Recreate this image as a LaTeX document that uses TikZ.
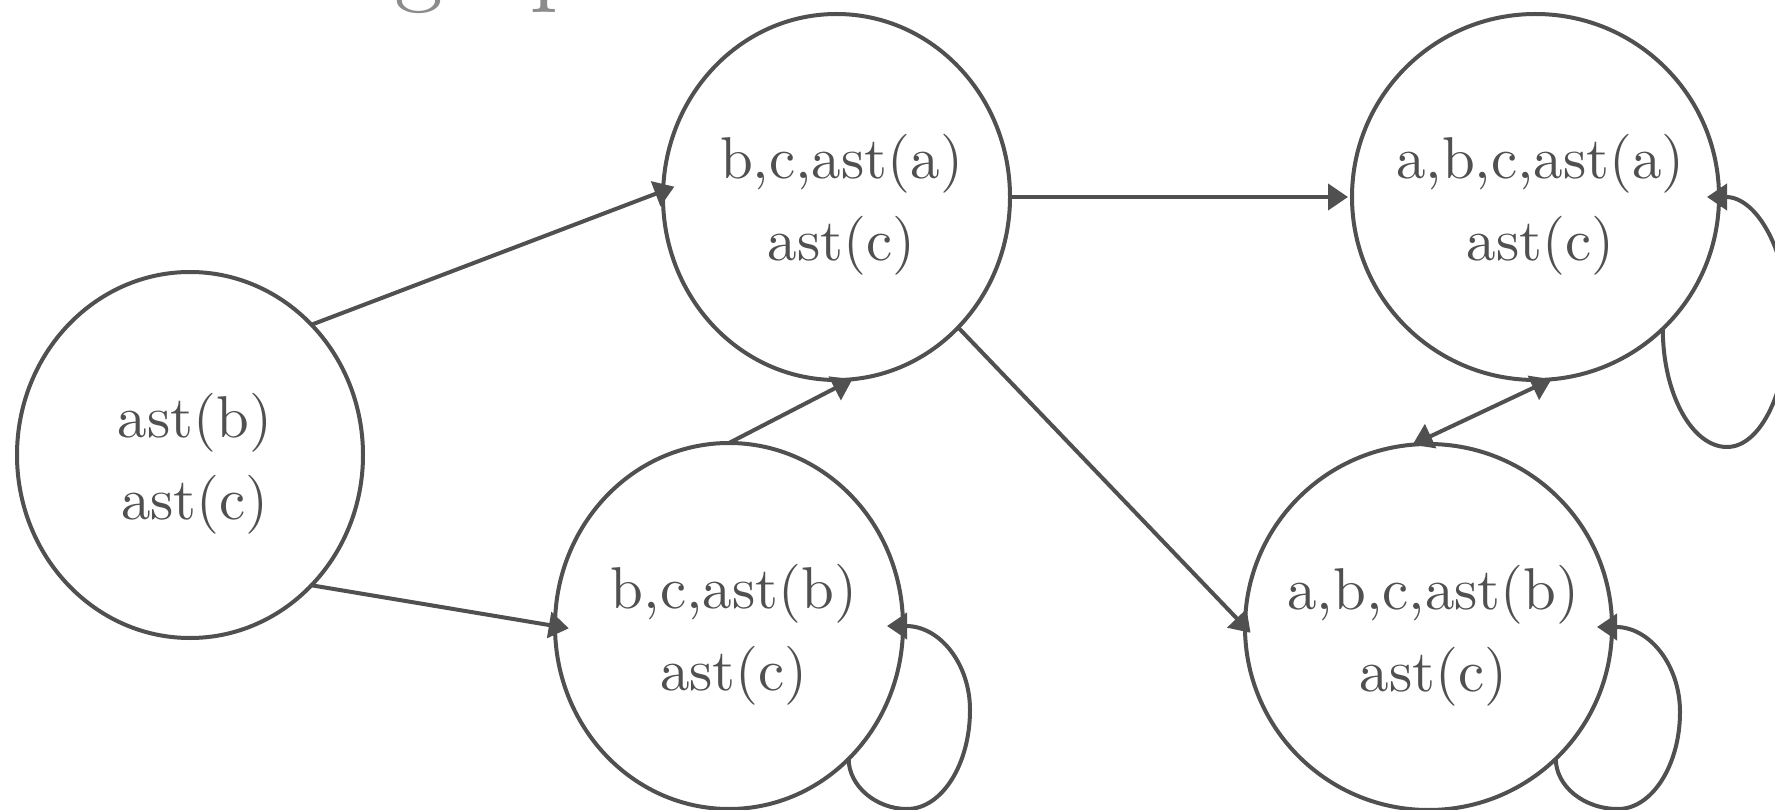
\documentclass[tikz,border=0pt]{standalone}
\usepackage{fontspec}
\newfontfamily\lblfont{lmroman10-regular.otf}
\usetikzlibrary{arrows.meta,shapes.geometric}
\definecolor{ink}{HTML}{505050}
\definecolor{titlegray}{HTML}{8C8C8C}
\begin{document}
\begin{tikzpicture}[x=1pt,y=-1pt,
  >={Triangle[length=20pt,width=26pt]},
  state/.style={ellipse, draw=ink, line width=4pt, inner sep=0pt, outer sep=0pt, minimum height=366pt},
  lbl/.style={text=ink, font=\lblfont\fontsize{59pt}{70pt}\selectfont, inner sep=0pt, anchor=base},
  edge/.style={draw=ink, line width=4pt, ->},
  titletext/.style={text=titlegray, font=\lblfont\fontsize{98pt}{100pt}\selectfont, inner sep=0pt, anchor=base west}]
\useasboundingbox (0,0) rectangle (1775,810);
\clip (0,0) rectangle (1775,810);
\fill[white] (0,0) rectangle (1775,810);

\node[titletext] (T) at (394,-6) {graph};

\node[state, minimum width=346pt] (A) at (190,455) {};
\node[state, minimum width=347pt] (B) at (836.5,197) {};
\node[state, minimum width=348pt] (C) at (729,626) {};
\node[state, minimum width=367pt] (D) at (1535.5,197) {};
\node[state, minimum width=367pt] (E) at (1428.5,627) {};

\node[lbl] (A1) at ([xshift=5pt,yshift=18pt]A.center) {ast(b)};
\node[lbl] (A2) at ([xshift=5pt,yshift=-64pt]A.center) {ast(c)};
\node[lbl] (B1) at ([xshift=5pt,yshift=18pt]B.center) {b,c,ast(a)};
\node[lbl] (B2) at ([xshift=5pt,yshift=-64pt]B.center) {ast(c)};
\node[lbl] (C1) at ([xshift=5pt,yshift=18pt]C.center) {b,c,ast(b)};
\node[lbl] (C2) at ([xshift=5pt,yshift=-64pt]C.center) {ast(c)};
\node[lbl] (D1) at ([xshift=5pt,yshift=18pt]D.center) {a,b,c,ast(a)};
\node[lbl] (D2) at ([xshift=5pt,yshift=-64pt]D.center) {ast(c)};
\node[lbl] (E1) at ([xshift=5pt,yshift=18pt]E.center) {a,b,c,ast(b)};
\node[lbl] (E2) at ([xshift=5pt,yshift=-64pt]E.center) {ast(c)};

\draw[edge, shorten >=-12pt] (A.47.7) -- (B.178.7);
\draw[edge, shorten >=-14pt] (A.-47.2) -- (C.180);
\draw[edge] (C.90) -- (B.-85);
\draw[edge, shorten >=4pt] (B.0) -- (D.180);
\draw[edge, shorten >=-8pt] (B.-47.6) -- (E.180);
\draw[edge, <->] (E.95) -- (D.-85);

\coordinate (Cb) at (907,809);
\coordinate (Cr) at (970,710);
\draw[edge, shorten >=-16pt] (C.-48) .. controls +(0,27) and +(-31,0) .. (Cb)
  .. controls +(35,0) and +(0,54) .. (Cr)
  .. controls +(0,-46) and +(37,0) .. (C.0);

\coordinate (Eb) at (1618,809);
\coordinate (Er) at (1680,712);
\draw[edge, shorten >=-15pt] (E.-46) .. controls +(0,27.5) and +(-34,0) .. (Eb)
  .. controls +(34,0) and +(0,53) .. (Er)
  .. controls +(0,-47) and +(37.5,0) .. (E.0);

\coordinate (Db) at (1727,447);
\coordinate (Dr) at (1788,320);
\draw[edge, shorten >=-12pt] (D.-46) .. controls +(0,65) and +(-35,0) .. (Db)
  .. controls +(34,0) and +(0,70) .. (Dr)
  .. controls +(0,-68) and +(38,0) .. (D.0);
\end{tikzpicture}
\end{document}
